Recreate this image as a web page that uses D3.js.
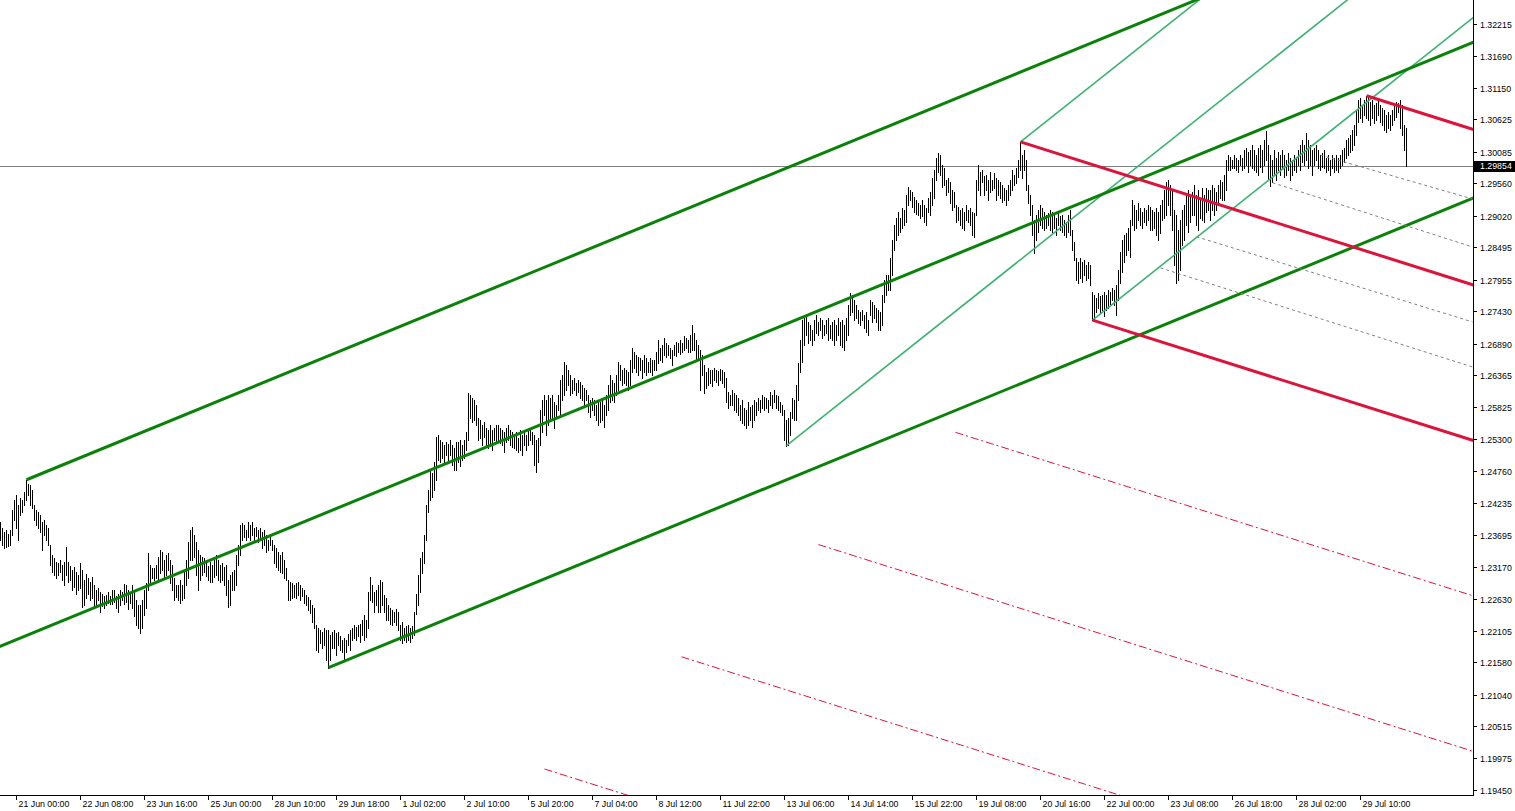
<!DOCTYPE html>
<html><head><meta charset="utf-8">
<script src="https://cdn.jsdelivr.net/npm/d3@7"></script>
<style>
html,body{margin:0;padding:0;background:#fff;overflow:hidden}
svg{display:block}
text{font-family:"Liberation Sans",Arial,sans-serif;font-size:8.8px;fill:#000}
</style></head>
<body><svg id="c" width="1515" height="811"></svg>
<script>
// ---- data ----
const timeLabels = ["21 Jun 00:00","22 Jun 08:00","23 Jun 16:00","25 Jun 00:00","28 Jun 10:00","29 Jun 18:00","1 Jul 02:00","2 Jul 10:00","5 Jul 20:00","7 Jul 04:00","8 Jul 12:00","11 Jul 22:00","13 Jul 06:00","14 Jul 14:00","15 Jul 22:00","19 Jul 08:00","20 Jul 16:00","22 Jul 00:00","23 Jul 08:00","26 Jul 18:00","28 Jul 02:00","29 Jul 10:00"];
const timeTickBars = [8,40,72,104,136,168,200,232,264,296,328,360,392,424,456,488,520,552,584,616,648,680];
const priceTicks = [1.32215,1.31690,1.31150,1.30625,1.30085,1.29560,1.29020,1.28495,1.27955,1.27430,1.26890,1.26365,1.25825,1.25300,1.24760,1.24235,1.23695,1.23170,1.22630,1.22105,1.21580,1.21040,1.20515,1.19975,1.19450];
const currentPrice = 1.29854;
const high = [
1.2392,1.2382,1.2375,1.2379,1.2372,1.2379,1.2412,1.2429,1.2437,1.2420,
1.2432,1.2429,1.2442,1.2462,1.2455,1.2454,1.2445,1.2420,1.2412,1.2409,
1.2404,1.2392,1.2395,1.2387,1.2382,1.2354,1.2337,1.2332,1.2325,1.2324,
1.2329,1.2320,1.2325,1.2350,1.2325,1.2319,1.2312,1.2317,1.2309,1.2304,
1.2324,1.2312,1.2295,1.2305,1.2299,1.2292,1.2300,1.2287,1.2279,1.2282,
1.2275,1.2272,1.2269,1.2270,1.2275,1.2269,1.2279,1.2279,1.2269,1.2272,
1.2279,1.2275,1.2289,1.2287,1.2279,1.2275,1.2287,1.2279,1.2262,1.2254,
1.2254,1.2262,1.2279,1.2290,1.2340,1.2320,1.2315,1.2315,1.2320,1.2334,
1.2345,1.2342,1.2329,1.2337,1.2340,1.2329,1.2320,1.2299,1.2287,1.2287,
1.2295,1.2287,1.2312,1.2329,1.2359,1.2379,1.2384,1.2370,1.2359,1.2345,
1.2337,1.2334,1.2332,1.2329,1.2319,1.2325,1.2320,1.2329,1.2337,1.2329,
1.2320,1.2324,1.2317,1.2320,1.2295,1.2304,1.2309,1.2312,1.2337,1.2354,
1.2387,1.2390,1.2387,1.2379,1.2392,1.2387,1.2392,1.2382,1.2384,1.2379,
1.2382,1.2375,1.2379,1.2370,1.2362,1.2372,1.2362,1.2354,1.2349,1.2342,
1.2337,1.2342,1.2329,1.2315,1.2295,1.2292,1.2290,1.2287,1.2290,1.2292,
1.2287,1.2282,1.2279,1.2270,1.2267,1.2262,1.2254,1.2249,1.2220,1.2215,
1.2212,1.2209,1.2215,1.2212,1.2212,1.2204,1.2209,1.2212,1.2207,1.2209,
1.2202,1.2195,1.2199,1.2195,1.2205,1.2212,1.2215,1.2220,1.2217,1.2220,
1.2222,1.2229,1.2237,1.2229,1.2275,1.2300,1.2287,1.2275,1.2279,1.2287,
1.2295,1.2292,1.2270,1.2265,1.2254,1.2249,1.2245,1.2242,1.2247,1.2242,
1.2220,1.2225,1.2215,1.2219,1.2220,1.2215,1.2219,1.2242,1.2272,1.2304,
1.2332,1.2342,1.2370,1.2420,1.2445,1.2479,1.2474,1.2492,1.2534,1.2537,
1.2529,1.2525,1.2520,1.2525,1.2522,1.2529,1.2520,1.2515,1.2525,1.2525,
1.2529,1.2520,1.2529,1.2542,1.2607,1.2604,1.2599,1.2595,1.2587,1.2565,
1.2562,1.2554,1.2559,1.2549,1.2545,1.2554,1.2545,1.2549,1.2554,1.2554,
1.2549,1.2545,1.2542,1.2549,1.2554,1.2545,1.2542,1.2537,1.2542,1.2532,
1.2545,1.2537,1.2542,1.2537,1.2545,1.2549,1.2542,1.2537,1.2529,1.2532,
1.2579,1.2595,1.2604,1.2595,1.2604,1.2599,1.2604,1.2592,1.2587,1.2604,
1.2629,1.2637,1.2659,1.2654,1.2645,1.2637,1.2629,1.2632,1.2624,1.2629,
1.2625,1.2620,1.2615,1.2612,1.2604,1.2595,1.2599,1.2595,1.2587,1.2595,
1.2592,1.2595,1.2587,1.2604,1.2620,1.2637,1.2629,1.2624,1.2637,1.2659,
1.2654,1.2645,1.2649,1.2645,1.2642,1.2662,1.2682,1.2675,1.2670,1.2667,
1.2665,1.2662,1.2670,1.2665,1.2659,1.2665,1.2662,1.2662,1.2675,1.2695,
1.2682,1.2687,1.2699,1.2690,1.2687,1.2682,1.2679,1.2687,1.2692,1.2690,
1.2695,1.2690,1.2702,1.2699,1.2695,1.2704,1.2720,1.2707,1.2695,1.2687,
1.2679,1.2670,1.2654,1.2642,1.2649,1.2645,1.2645,1.2649,1.2645,1.2644,
1.2647,1.2645,1.2642,1.2632,1.2609,1.2604,1.2612,1.2607,1.2604,1.2599,
1.2587,1.2595,1.2582,1.2579,1.2592,1.2584,1.2587,1.2595,1.2592,1.2599,
1.2595,1.2604,1.2600,1.2599,1.2595,1.2609,1.2604,1.2612,1.2604,1.2602,
1.2592,1.2587,1.2579,1.2562,1.2565,1.2575,1.2599,1.2595,1.2620,1.2657,
1.2695,1.2729,1.2732,1.2735,1.2725,1.2720,1.2712,1.2729,1.2737,1.2725,
1.2732,1.2729,1.2720,1.2729,1.2732,1.2720,1.2725,1.2729,1.2720,1.2732,
1.2725,1.2729,1.2720,1.2732,1.2754,1.2774,1.2770,1.2762,1.2754,1.2745,
1.2742,1.2745,1.2737,1.2742,1.2729,1.2762,1.2759,1.2754,1.2749,1.2745,
1.2742,1.2770,1.2795,1.2804,1.2804,1.2832,1.2862,1.2887,1.2899,1.2909,
1.2899,1.2915,1.2912,1.2937,1.2950,1.2945,1.2942,1.2934,1.2929,1.2924,
1.2920,1.2929,1.2920,1.2915,1.2932,1.2942,1.2965,1.2979,1.2999,1.3007,
1.3004,1.2987,1.2982,1.2962,1.2965,1.2959,1.2945,1.2942,1.2920,1.2917,
1.2912,1.2915,1.2909,1.2920,1.2912,1.2915,1.2909,1.2907,1.2962,1.2987,
1.2975,1.2979,1.2969,1.2970,1.2962,1.2975,1.2962,1.2974,1.2965,1.2962,
1.2959,1.2954,1.2949,1.2945,1.2954,1.2962,1.2979,1.2970,1.2982,1.2995,
1.3025,1.3004,1.3012,1.2995,1.2954,1.2937,1.2920,1.2895,1.2904,1.2912,
1.2920,1.2915,1.2909,1.2904,1.2907,1.2912,1.2909,1.2904,1.2899,1.2907,
1.2902,1.2904,1.2895,1.2892,1.2904,1.2912,1.2879,1.2859,1.2832,1.2825,
1.2832,1.2825,1.2829,1.2820,1.2825,1.2820,1.2775,1.2770,1.2765,1.2774,
1.2769,1.2770,1.2775,1.2770,1.2779,1.2775,1.2782,1.2779,1.2787,1.2812,
1.2842,1.2862,1.2870,1.2874,1.2882,1.2895,1.2929,1.2920,1.2912,1.2924,
1.2915,1.2909,1.2915,1.2912,1.2920,1.2917,1.2912,1.2909,1.2915,1.2909,
1.2920,1.2929,1.2945,1.2959,1.2962,1.2954,1.2945,1.2912,1.2904,1.2879,
1.2895,1.2912,1.2920,1.2937,1.2945,1.2934,1.2942,1.2954,1.2937,1.2945,
1.2929,1.2949,1.2937,1.2949,1.2945,1.2945,1.2954,1.2949,1.2942,1.2954,
1.2962,1.2959,1.2970,1.2995,1.3004,1.3000,1.2995,1.3004,1.2999,1.2995,
1.3004,1.2999,1.3012,1.3015,1.3009,1.3012,1.3020,1.3012,1.3004,1.3015,
1.3020,1.3012,1.3029,1.3044,1.3020,1.3004,1.2995,1.3012,1.2999,1.3009,
1.3004,1.3012,1.3004,1.2995,1.3007,1.2999,1.2995,1.3004,1.3000,1.3012,
1.3020,1.3029,1.3020,1.3040,1.3029,1.3020,1.3012,1.3015,1.3020,1.3012,
1.3004,1.3007,1.3012,1.2999,1.3004,1.2995,1.3004,1.2999,1.3004,1.2999,
1.3004,1.3012,1.3015,1.3029,1.3032,1.3037,1.3045,1.3054,1.3079,1.3095,
1.3099,1.3087,1.3095,1.3102,1.3099,1.3092,1.3095,1.3087,1.3090,1.3095,
1.3087,1.3082,1.3079,1.3070,1.3075,1.3070,1.3079,1.3087,1.3092,1.3090,
1.3095,1.3087,1.3054,1.3049];
const low = [
1.2362,1.2354,1.2349,1.2350,1.2352,1.2354,1.2370,1.2395,1.2382,1.2362,
1.2404,1.2409,1.2420,1.2429,1.2437,1.2420,1.2415,1.2395,1.2387,1.2382,
1.2375,1.2345,1.2370,1.2362,1.2354,1.2320,1.2309,1.2304,1.2299,1.2304,
1.2309,1.2295,1.2287,1.2304,1.2292,1.2295,1.2279,1.2284,1.2272,1.2279,
1.2282,1.2250,1.2254,1.2265,1.2272,1.2262,1.2265,1.2250,1.2254,1.2262,
1.2242,1.2252,1.2249,1.2254,1.2257,1.2255,1.2255,1.2259,1.2249,1.2242,
1.2254,1.2262,1.2255,1.2259,1.2247,1.2257,1.2249,1.2235,1.2220,1.2215,
1.2207,1.2215,1.2237,1.2249,1.2279,1.2292,1.2299,1.2295,1.2299,1.2295,
1.2307,1.2312,1.2299,1.2304,1.2312,1.2290,1.2279,1.2262,1.2267,1.2262,
1.2257,1.2262,1.2265,1.2287,1.2299,1.2329,1.2329,1.2334,1.2304,1.2279,
1.2295,1.2304,1.2309,1.2302,1.2295,1.2292,1.2292,1.2300,1.2304,1.2295,
1.2292,1.2295,1.2287,1.2270,1.2250,1.2254,1.2279,1.2279,1.2287,1.2320,
1.2337,1.2362,1.2367,1.2362,1.2367,1.2362,1.2370,1.2362,1.2369,1.2359,
1.2365,1.2349,1.2354,1.2342,1.2345,1.2354,1.2345,1.2324,1.2317,1.2312,
1.2309,1.2307,1.2299,1.2295,1.2262,1.2262,1.2265,1.2267,1.2265,1.2270,
1.2262,1.2269,1.2257,1.2254,1.2245,1.2240,1.2225,1.2215,1.2179,1.2175,
1.2190,1.2182,1.2187,1.2162,1.2149,1.2162,1.2182,1.2182,1.2170,1.2187,
1.2179,1.2175,1.2162,1.2175,1.2187,1.2179,1.2195,1.2199,1.2195,1.2202,
1.2192,1.2204,1.2195,1.2200,1.2215,1.2262,1.2259,1.2242,1.2254,1.2242,
1.2242,1.2254,1.2242,1.2229,1.2229,1.2222,1.2220,1.2225,1.2220,1.2212,
1.2195,1.2190,1.2195,1.2192,1.2195,1.2192,1.2199,1.2204,1.2239,1.2254,
1.2275,1.2307,1.2324,1.2362,1.2409,1.2429,1.2434,1.2445,1.2462,1.2495,
1.2492,1.2499,1.2492,1.2504,1.2495,1.2504,1.2487,1.2479,1.2479,1.2492,
1.2485,1.2495,1.2499,1.2512,1.2529,1.2565,1.2559,1.2562,1.2554,1.2529,
1.2532,1.2520,1.2534,1.2520,1.2515,1.2520,1.2512,1.2529,1.2525,1.2529,
1.2524,1.2520,1.2509,1.2525,1.2529,1.2520,1.2517,1.2515,1.2512,1.2509,
1.2512,1.2504,1.2520,1.2512,1.2520,1.2529,1.2522,1.2487,1.2475,1.2492,
1.2520,1.2542,1.2570,1.2537,1.2554,1.2565,1.2562,1.2549,1.2565,1.2579,
1.2570,1.2595,1.2604,1.2612,1.2620,1.2604,1.2607,1.2612,1.2604,1.2609,
1.2599,1.2595,1.2587,1.2595,1.2575,1.2567,1.2579,1.2570,1.2562,1.2554,
1.2559,1.2562,1.2550,1.2570,1.2579,1.2592,1.2595,1.2592,1.2604,1.2612,
1.2629,1.2620,1.2624,1.2620,1.2612,1.2620,1.2642,1.2649,1.2642,1.2637,
1.2645,1.2632,1.2642,1.2637,1.2642,1.2642,1.2637,1.2645,1.2645,1.2657,
1.2662,1.2659,1.2670,1.2667,1.2670,1.2665,1.2654,1.2670,1.2669,1.2675,
1.2672,1.2675,1.2679,1.2682,1.2675,1.2675,1.2679,1.2679,1.2662,1.2665,
1.2612,1.2637,1.2607,1.2615,1.2620,1.2624,1.2619,1.2629,1.2625,1.2620,
1.2629,1.2624,1.2617,1.2592,1.2582,1.2587,1.2587,1.2579,1.2575,1.2570,
1.2562,1.2557,1.2554,1.2549,1.2554,1.2562,1.2550,1.2562,1.2570,1.2579,
1.2575,1.2582,1.2579,1.2582,1.2575,1.2587,1.2582,1.2592,1.2582,1.2579,
1.2575,1.2570,1.2529,1.2519,1.2520,1.2537,1.2565,1.2562,1.2562,1.2595,
1.2642,1.2659,1.2687,1.2704,1.2690,1.2695,1.2687,1.2695,1.2707,1.2704,
1.2712,1.2699,1.2704,1.2707,1.2695,1.2699,1.2695,1.2687,1.2695,1.2704,
1.2687,1.2684,1.2679,1.2695,1.2704,1.2737,1.2742,1.2729,1.2732,1.2724,
1.2720,1.2729,1.2715,1.2709,1.2704,1.2737,1.2725,1.2732,1.2725,1.2712,
1.2712,1.2720,1.2759,1.2770,1.2779,1.2779,1.2804,1.2845,1.2862,1.2870,
1.2875,1.2882,1.2887,1.2892,1.2920,1.2929,1.2917,1.2909,1.2905,1.2904,
1.2899,1.2902,1.2892,1.2887,1.2909,1.2904,1.2920,1.2932,1.2962,1.2975,
1.2970,1.2950,1.2954,1.2937,1.2942,1.2924,1.2912,1.2917,1.2892,1.2895,
1.2887,1.2882,1.2879,1.2895,1.2892,1.2887,1.2870,1.2867,1.2904,1.2945,
1.2937,1.2959,1.2937,1.2945,1.2929,1.2942,1.2945,1.2949,1.2929,1.2937,
1.2932,1.2925,1.2929,1.2920,1.2929,1.2937,1.2945,1.2954,1.2957,1.2967,
1.2979,1.2965,1.2979,1.2945,1.2924,1.2904,1.2870,1.2840,1.2862,1.2875,
1.2887,1.2882,1.2879,1.2882,1.2887,1.2879,1.2875,1.2882,1.2870,1.2887,
1.2879,1.2875,1.2870,1.2867,1.2875,1.2870,1.2845,1.2829,1.2795,1.2790,
1.2799,1.2792,1.2804,1.2795,1.2799,1.2787,1.2728,1.2729,1.2742,1.2749,
1.2742,1.2745,1.2735,1.2745,1.2749,1.2754,1.2762,1.2754,1.2737,1.2762,
1.2790,1.2809,1.2825,1.2837,1.2845,1.2834,1.2887,1.2879,1.2882,1.2895,
1.2887,1.2882,1.2892,1.2887,1.2895,1.2879,1.2879,1.2882,1.2870,1.2862,
1.2874,1.2895,1.2899,1.2904,1.2920,1.2904,1.2879,1.2820,1.2790,1.2795,
1.2812,1.2854,1.2862,1.2887,1.2875,1.2892,1.2904,1.2904,1.2887,1.2879,
1.2899,1.2895,1.2892,1.2909,1.2912,1.2895,1.2912,1.2904,1.2912,1.2920,
1.2932,1.2929,1.2929,1.2945,1.2979,1.2979,1.2982,1.2982,1.2979,1.2975,
1.2987,1.2979,1.2982,1.2987,1.2975,1.2987,1.2982,1.2979,1.2975,1.2970,
1.2984,1.2975,1.2987,1.2995,1.2962,1.2952,1.2959,1.2970,1.2962,1.2979,
1.2970,1.2982,1.2967,1.2970,1.2979,1.2962,1.2970,1.2979,1.2975,1.2987,
1.2979,1.2992,1.2987,1.2995,1.2982,1.2987,1.2970,1.2987,1.2995,1.2982,
1.2979,1.2984,1.2982,1.2975,1.2979,1.2970,1.2982,1.2975,1.2979,1.2975,
1.2982,1.2987,1.2992,1.2999,1.3004,1.3009,1.3012,1.3020,1.3037,1.3059,
1.3065,1.3059,1.3070,1.3065,1.3062,1.3054,1.3065,1.3057,1.3062,1.3070,
1.3059,1.3054,1.3045,1.3042,1.3049,1.3045,1.3054,1.3062,1.3067,1.3075,
1.3049,1.3037,1.3012,1.2985];

// pitchfork pivots: [bar index, price]
const greenPivots = [[-15,1.2164],[13,1.2462],[164,1.2149]];
const lightPivots = [[393,1.2519],[510,1.3025],[546,1.2728]];
const redPivots   = [[510,1.3025],[683,1.3102],[546,1.2728]];
const redWarningLevels = [1,2,3,4];
// grey dashed reaction lines: [startBar, startPrice, endBar, endPrice]
const greyLines = [[660,1.3003,736,1.2930],[636,1.2957,736,1.2850],[598,1.2867,736,1.2725],[580,1.2815,736,1.2650]];

// ---- drawing ----
const W = 1515, H = 811, plotR = 1473, plotB = 795;
const svg = d3.select("#c");
svg.append("rect").attr("width",W).attr("height",H).attr("fill","#fff");
const x = d3.scaleLinear().domain([0, 736]).range([0.5, 1472.5]);
const y = d3.scaleLinear().domain([1.19450, 1.32215]).range([790, 24]);

svg.append("defs").append("clipPath").attr("id","plot")
  .append("rect").attr("x",0).attr("y",0).attr("width",plotR).attr("height",plotB);
const plot = svg.append("g").attr("clip-path","url(#plot)");

// current price line
plot.append("line").attr("x1",0).attr("x2",plotR)
  .attr("y1",Math.round(y(currentPrice))+0.5).attr("y2",Math.round(y(currentPrice))+0.5)
  .attr("stroke","#808080").attr("stroke-width",1).attr("shape-rendering","crispEdges");

// bars
const bars = high.map((h,i)=>({i,h,l:low[i]}));
plot.append("g").selectAll("line").data(bars).join("line")
  .attr("x1",d=>Math.floor(x(d.i))+0.5).attr("x2",d=>Math.floor(x(d.i))+0.5)
  .attr("y1",d=>Math.round(y(d.h))).attr("y2",d=>Math.round(y(d.l))+1)
  .attr("stroke","#000").attr("stroke-width",1).attr("shape-rendering","crispEdges");

const P = d => [x(d[0]), y(d[1])];
const L = 4000;
function ray(g, s, dir, style){
  g.append("line").attr("x1",s[0]).attr("y1",s[1])
   .attr("x2",s[0]+dir[0]*L).attr("y2",s[1]+dir[1]*L)
   .attr("stroke",style.c).attr("stroke-width",style.w)
   .attr("stroke-dasharray",style.d||null).attr("fill","none");
}
function fork(piv, style, extra){
  const h = P(piv[0]), a = P(piv[1]), b = P(piv[2]);
  const m = [(a[0]+b[0])/2,(a[1]+b[1])/2];
  let dir = [m[0]-h[0], m[1]-h[1]];
  const n = Math.hypot(dir[0],dir[1]); dir = [dir[0]/n, dir[1]/n];
  const g = plot.append("g");
  ray(g,h,dir,style); ray(g,a,dir,style); ray(g,b,dir,style);
  if (extra) extra(g,a,b,dir);
}
// light green pitchfork
fork(lightPivots, {c:"#3cb371", w:1.6});
// big green pitchfork
fork(greenPivots, {c:"#0a820a", w:3});
// grey dashed lines
plot.append("g").selectAll("line").data(greyLines).join("line")
  .attr("x1",d=>x(d[0])).attr("y1",d=>y(d[1])).attr("x2",d=>x(d[2])).attr("y2",d=>y(d[3]))
  .attr("stroke","#808080").attr("stroke-width",1).attr("stroke-dasharray","3,3");
// red pitchfork + warning lines
fork(redPivots, {c:"#dc143c", w:3}, (g,a,b,dir)=>{
  const half = [(b[0]-a[0])/2, (b[1]-a[1])/2];
  redWarningLevels.forEach(k=>{
    ray(g,[b[0]+half[0]*k, b[1]+half[1]*k], dir, {c:"#dc143c", w:1, d:"8,3,2,3"});
  });
});

// right price axis
const ay = svg.append("g");
ay.append("line").attr("x1",plotR+0.5).attr("x2",plotR+0.5).attr("y1",0).attr("y2",plotB)
  .attr("stroke","#000").attr("shape-rendering","crispEdges");
const yt = ay.selectAll("g.t").data(priceTicks).join("g").attr("class","t")
  .attr("transform",d=>`translate(0,${Math.round(y(d))+0.5})`);
yt.append("line").attr("x1",plotR).attr("x2",plotR+4).attr("stroke","#000").attr("shape-rendering","crispEdges");
yt.append("text").attr("x",plotR+7).attr("dy","0.35em").text(d=>d3.format(".5f")(d));

// current price label
const cy = y(currentPrice);
ay.append("rect").attr("x",plotR+1).attr("y",Math.round(cy)-5).attr("width",W-plotR-1).attr("height",11).attr("fill","#000");
ay.append("text").attr("x",plotR+7).attr("y",cy).attr("dy","0.35em").style("fill","#fff").text(d3.format(".5f")(currentPrice));

// bottom time axis
const ax = svg.append("g");
ax.append("line").attr("x1",0).attr("x2",plotR+1).attr("y1",plotB+0.5).attr("y2",plotB+0.5)
  .attr("stroke","#000").attr("shape-rendering","crispEdges");
const xt = ax.selectAll("g.t").data(timeTickBars).join("g").attr("class","t")
  .attr("transform",d=>`translate(${Math.floor(x(d))+0.5},0)`);
xt.append("line").attr("y1",plotB).attr("y2",plotB+5).attr("stroke","#000").attr("shape-rendering","crispEdges");
xt.append("text").attr("x",2).attr("y",plotB+12).text((d,i)=>timeLabels[i]);
</script></body></html>
